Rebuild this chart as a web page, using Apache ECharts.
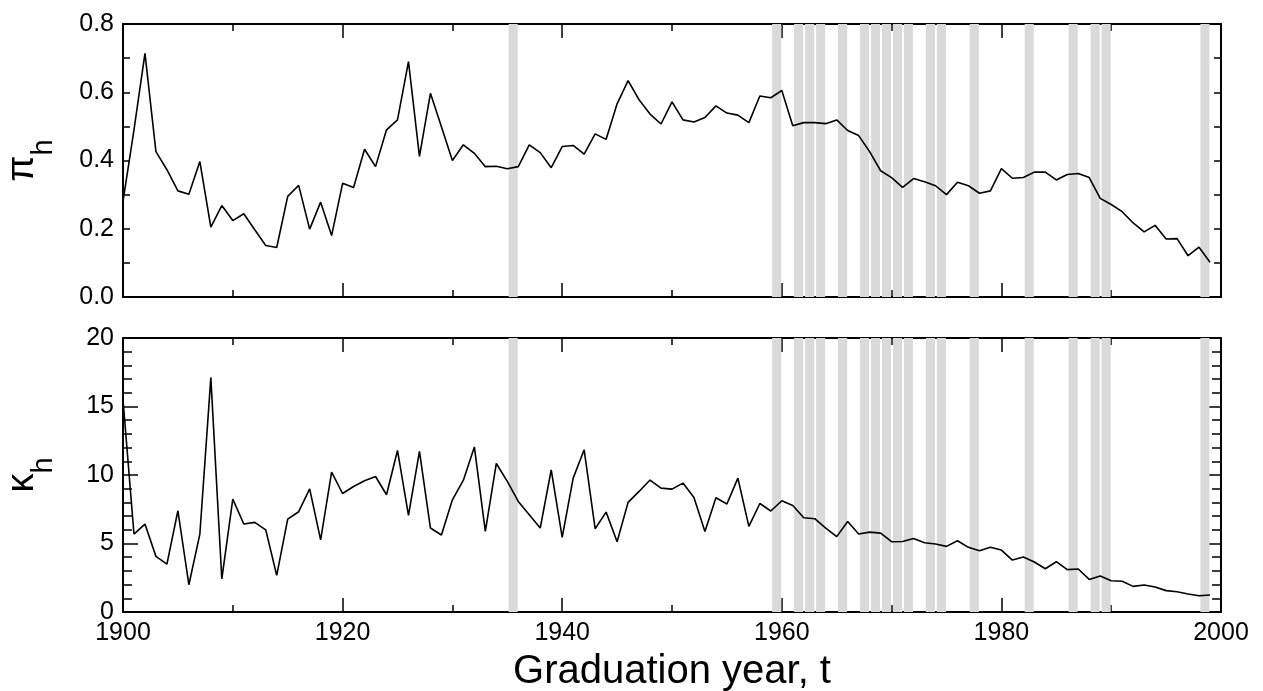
<!DOCTYPE html>
<html>
<head>
<meta charset="utf-8">
<script src="https://cdn.jsdelivr.net/npm/echarts@6/dist/echarts.min.js"></script>
<style>
html,body{margin:0;padding:0;background:#fff;}
#chart{width:1263px;height:691px;}
</style>
</head>
<body>
<div id="chart"></div>
<script>
// ---- data ----
const startYear = 1900;
const piValues = [
  0.28, 0.49, 0.714, 0.426, 0.373, 0.311, 0.301, 0.397, 0.205, 0.268,
  0.224, 0.244, 0.197, 0.151, 0.145, 0.295, 0.327, 0.199, 0.278, 0.180,
  0.333, 0.321, 0.433, 0.382, 0.490, 0.519, 0.690, 0.412, 0.597, 0.499,
  0.400, 0.446, 0.421, 0.382, 0.383, 0.376, 0.382, 0.446, 0.423, 0.379,
  0.441, 0.444, 0.419, 0.478, 0.462, 0.566, 0.634, 0.578, 0.536, 0.507,
  0.572, 0.519, 0.513, 0.526, 0.560, 0.539, 0.533, 0.511, 0.589, 0.584,
  0.605, 0.502, 0.511, 0.511, 0.508, 0.519, 0.488, 0.473, 0.426, 0.370,
  0.350, 0.321, 0.347, 0.338, 0.326, 0.300, 0.336, 0.326, 0.304, 0.311,
  0.376, 0.348, 0.350, 0.366, 0.366, 0.343, 0.359, 0.362, 0.350, 0.289,
  0.271, 0.250, 0.217, 0.191, 0.210, 0.170, 0.171, 0.121, 0.146, 0.102
];
const kappaValues = [
  15.5, 5.69, 6.42, 4.06, 3.50, 7.39, 1.99, 5.69, 17.11, 2.41,
  8.24, 6.42, 6.54, 6.00, 2.67, 6.78, 7.32, 8.99, 5.27, 10.21,
  8.65, 9.16, 9.58, 9.89, 8.56, 11.79, 7.05, 11.72, 6.13, 5.62,
  8.19, 9.62, 12.05, 5.88, 10.84, 9.53, 8.07, 7.10, 6.13, 10.38,
  5.44, 9.77, 11.84, 6.08, 7.29, 5.13, 8.00, 8.80, 9.63, 9.04,
  8.97, 9.41, 8.36, 5.88, 8.34, 7.88, 9.77, 6.25, 7.92, 7.37,
  8.12, 7.78, 6.88, 6.81, 6.13, 5.50, 6.61, 5.69, 5.83, 5.76,
  5.13, 5.15, 5.37, 5.06, 4.96, 4.79, 5.20, 4.72, 4.47, 4.72,
  4.52, 3.79, 4.01, 3.65, 3.16, 3.67, 3.09, 3.14, 2.38, 2.63,
  2.28, 2.24, 1.87, 1.97, 1.82, 1.56, 1.48, 1.31, 1.19, 1.24
];
const bandYears = [1935, 1959, 1961, 1962, 1963, 1965, 1967, 1968, 1969, 1970,
  1971, 1973, 1974, 1977, 1982, 1986, 1988, 1989, 1998];
const xTicks = [1900, 1920, 1940, 1960, 1980, 2000];
const piTicks = [0.0, 0.2, 0.4, 0.6, 0.8];
const kappaTicks = [0, 5, 10, 15, 20];

// ---- build ----
const FONT = '"Liberation Sans", Arial, Helvetica, sans-serif';
const years = piValues.map((_, i) => startYear + i);
const piData = years.map((y, i) => [y, piValues[i]]);
const kappaData = years.map((y, i) => [y, kappaValues[i]]);
const bands = bandYears.map(y => [{xAxis: y + 0.12}, {xAxis: y + 0.95}]);

const grids = [
  {left: 123, right: 42, top: 24, height: 273, outerBoundsMode: 'none', containLabel: false},
  {left: 123, right: 42, top: 338, height: 274, outerBoundsMode: 'none', containLabel: false}
];

function xAxisDef(gridIndex, position, showLabels) {
  return {
    type: 'value', gridIndex, position,
    min: xTicks[0], max: xTicks[xTicks.length - 1],
    interval: xTicks[1] - xTicks[0],
    axisLine: {show: true, onZero: false, lineStyle: {color: '#000', width: 2}},
    axisTick: {show: true, inside: true, length: 14, lineStyle: {color: '#000', width: 1.5}},
    minorTick: {show: true, splitNumber: 2, length: 7, lineStyle: {color: '#000', width: 1.5}},
    axisLabel: {show: showLabels, color: '#000', fontSize: 25, fontFamily: FONT, margin: 9,
      formatter: v => String(v)},
    splitLine: {show: false}
  };
}
function yAxisDef(gridIndex, position, ticks, majorLen, minorSplit, minorLen, showLabels, name, fmt) {
  return {
    type: 'value', gridIndex, position,
    min: ticks[0], max: ticks[ticks.length - 1], interval: ticks[1] - ticks[0],
    axisLine: {show: true, onZero: false, lineStyle: {color: '#000', width: 2}},
    axisTick: {show: true, inside: true, length: majorLen, lineStyle: {color: '#000', width: 1.5}},
    minorTick: {show: true, splitNumber: minorSplit, length: minorLen, lineStyle: {color: '#000', width: 1.5}},
    axisLabel: {show: showLabels, color: '#000', fontSize: 25, fontFamily: FONT, margin: 9, formatter: fmt},
    splitLine: {show: false},
    name: name || '',
    nameLocation: 'middle',
    nameGap: 65,
    nameTextStyle: {
      color: '#000', fontFamily: FONT,
      rich: {
        p: {fontSize: 38, fontFamily: FONT, color: '#000', verticalAlign: 'top', lineHeight: 38},
        s: {fontSize: 29, fontFamily: FONT, color: '#000', verticalAlign: 'bottom', lineHeight: 54}
      }
    }
  };
}

const option = {
  animation: false,
  backgroundColor: '#fff',
  grid: grids,
  xAxis: [
    xAxisDef(0, 'bottom', false),
    xAxisDef(0, 'top', false),
    Object.assign(xAxisDef(1, 'bottom', true), {
      name: 'Graduation year, t', nameLocation: 'middle', nameGap: 40,
      nameTextStyle: {color: '#000', fontSize: 40, fontFamily: FONT}
    }),
    xAxisDef(1, 'top', false)
  ],
  yAxis: [
    yAxisDef(0, 'left', piTicks, 7, 2, 7, true, '{p|π}{s|h}', v => v.toFixed(1)),
    yAxisDef(0, 'right', piTicks, 7, 2, 7, false),
    yAxisDef(1, 'left', kappaTicks, 15, 5, 9, true, '{p|κ}{s|h}', v => String(v)),
    yAxisDef(1, 'right', kappaTicks, 15, 5, 9, false)
  ],
  series: [
    {
      type: 'line', xAxisIndex: 0, yAxisIndex: 0, data: piData,
      showSymbol: false, lineStyle: {color: '#000', width: 1.6},
      markArea: {silent: true, itemStyle: {color: '#dadada'}, data: bands}, z: 3
    },
    {
      type: 'line', xAxisIndex: 2, yAxisIndex: 2, data: kappaData,
      showSymbol: false, lineStyle: {color: '#000', width: 1.6},
      markArea: {silent: true, itemStyle: {color: '#dadada'}, data: bands}, z: 3
    }
  ]
};
const chart = echarts.init(document.getElementById('chart'), null, {renderer: 'canvas'});
chart.setOption(option);
</script>
</body>
</html>
